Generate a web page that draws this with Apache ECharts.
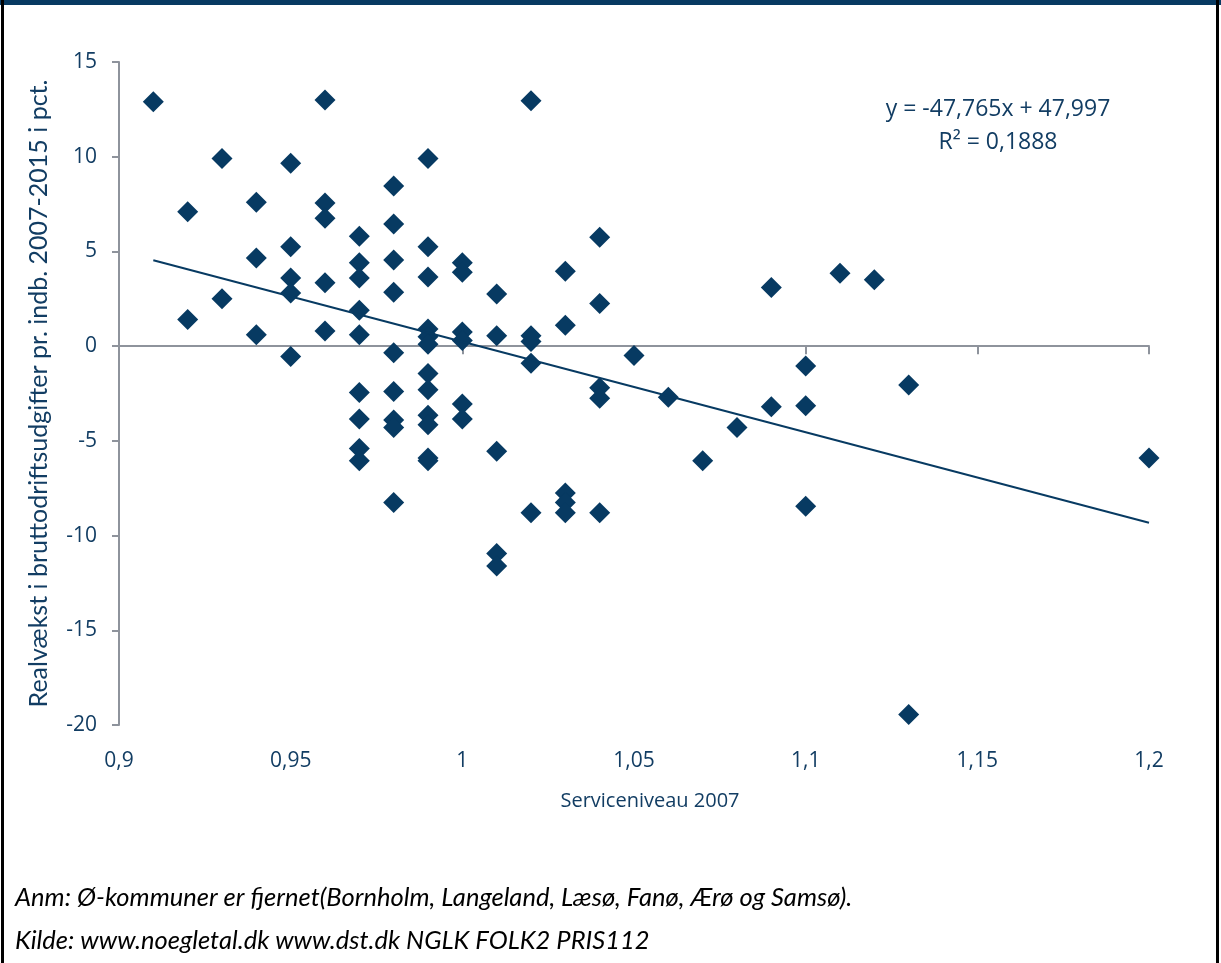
<!DOCTYPE html>
<html>
<head>
<meta charset="utf-8">
<script src="https://cdn.jsdelivr.net/npm/echarts@6/dist/echarts.min.js"></script>
<style>
  html, body { margin: 0; padding: 0; background: #ffffff; }
  #chart { width: 1221px; height: 963px; }
</style>
</head>
<body>
<div id="chart"></div>
<script>
// Serviceniveau 2007 (x) grouped per column, with realvækst values (y, pct.)
const xLevels = [0.91, 0.92, 0.93, 0.94, 0.95, 0.96, 0.97, 0.98, 0.99, 1.00,
                 1.01, 1.02, 1.03, 1.04, 1.05, 1.06, 1.07, 1.08, 1.09, 1.10,
                 1.11, 1.12, 1.13, 1.20];
const growthByLevel = [
  [12.9],
  [7.1, 1.4],
  [9.9, 2.5],
  [7.6, 4.65, 0.6],
  [9.65, 5.25, 3.6, 2.8, -0.55],
  [13.0, 7.55, 6.75, 3.35, 0.8],
  [5.8, 4.4, 3.6, 1.9, 0.6, -2.45, -3.85, -5.4, -6.05],
  [8.45, 6.45, 4.55, 2.85, -0.35, -2.4, -3.9, -4.3, -8.25],
  [9.9, 5.25, 3.65, 0.9, 0.5, 0.1, -1.45, -2.3, -3.65, -4.15, -5.9, -6.05],
  [4.4, 3.9, 0.75, 0.3, -3.05, -3.85],
  [2.75, 0.55, -5.55, -10.95, -11.6],
  [12.95, 0.55, 0.25, -0.9, -8.8],
  [3.95, 1.1, -7.75, -8.25, -8.8],
  [5.75, 2.25, -2.2, -2.75, -8.8],
  [-0.5],
  [-2.7],
  [-6.05],
  [-4.3],
  [3.1, -3.2],
  [-1.05, -3.15, -8.45],
  [3.85],
  [3.5],
  [-2.05, -19.45],
  [-5.9]
];

// Linear trend line coefficients (as printed on the chart)
const trendSlope = -47.765;
const trendIntercept = 47.997;
const trendR2 = 0.1888;

// Axis ranges
const xMin = 0.9, xMax = 1.2, xStep = 0.05;
const yMin = -20, yMax = 15, yStep = 5;

const titleY = 'Realvækst i bruttodriftsudgifter pr. indb. 2007-2015 i pct.';
const titleX = 'Serviceniveau 2007';
const noteLines = [
  'Anm: Ø-kommuner er fjernet(Bornholm, Langeland, Læsø, Fanø, Ærø og Samsø).',
  'Kilde: www.noegletal.dk www.dst.dk NGLK FOLK2 PRIS112'
];

const points = [];
xLevels.forEach((x, i) => growthByLevel[i].forEach(y => points.push([x, y])));

const xs = points.map(p => p[0]);
const x0 = Math.min(...xs), x1 = Math.max(...xs);
const trendLine = [[x0, trendSlope * x0 + trendIntercept], [x1, trendSlope * x1 + trendIntercept]];

const fmtComma = (v, d) => Number(v.toFixed(d)).toString().replace('.', ',');

const navy = '#073a62';
const textNavy = '#123d63';
const axisGray = '#8e939c';
const tickFont = '"Open Sans", sans-serif';
const titleFont = 'Lato, sans-serif';

const chart = echarts.init(document.getElementById('chart'), null, { renderer: 'canvas' });
chart.setOption({
  animation: false,
  backgroundColor: '#ffffff',
  grid: { left: 119, right: 72, top: 62, bottom: 238 },
  xAxis: [
    {
      type: 'value', min: xMin, max: xMax, interval: xStep,
      axisLine: { show: true, onZero: true, lineStyle: { color: axisGray, width: 2 } },
      axisTick: { show: true, length: 8, lineStyle: { color: axisGray, width: 2 } },
      axisLabel: { show: false },
      splitLine: { show: false }
    },
    {
      type: 'value', min: xMin, max: xMax, interval: xStep, position: 'bottom',
      axisLine: { show: false }, axisTick: { show: false }, splitLine: { show: false },
      axisLabel: {
        margin: 26, color: textNavy, fontSize: 21, fontFamily: tickFont,
        formatter: v => fmtComma(v, 2)
      }
    }
  ],
  yAxis: {
    type: 'value', min: yMin, max: yMax, interval: yStep,
    axisLine: { show: true, onZero: false, lineStyle: { color: axisGray, width: 2 } },
    axisTick: { show: true, length: 7, lineStyle: { color: axisGray, width: 2 } },
    splitLine: { show: false },
    axisLabel: { margin: 22, color: textNavy, fontSize: 21, fontFamily: tickFont },
    name: titleY, nameLocation: 'middle', nameGap: 68, nameRotate: 90,
    nameTextStyle: { color: textNavy, fontSize: 25, fontFamily: titleFont }
  },
  series: [
    {
      type: 'line', xAxisIndex: 0, data: trendLine, symbol: 'none',
      lineStyle: { color: navy, width: 2 }, z: 3, silent: true
    },
    {
      type: 'scatter', xAxisIndex: 0, data: points, symbol: 'diamond',
      symbolSize: [21, 21], itemStyle: { color: navy, opacity: 1 }, z: 2
    }
  ],
  graphic: [
    { type: 'rect', left: 0, top: 0, shape: { width: 1221, height: 5 }, style: { fill: '#073a62' } },
    { type: 'rect', left: 1, top: 0, shape: { width: 3, height: 963 }, style: { fill: '#000000' } },
    { type: 'rect', left: 1216, top: 0, shape: { width: 3, height: 963 }, style: { fill: '#000000' } },
    { type: 'text', x: 650, y: 801, style: {
        text: titleX, align: 'center', verticalAlign: 'middle', fill: textNavy,
        font: '20px "Open Sans", sans-serif' } },
    { type: 'text', x: 998, y: 109, style: {
        text: 'y = ' + fmtComma(trendSlope, 3) + 'x + ' + fmtComma(trendIntercept, 3),
        align: 'center', verticalAlign: 'middle', fill: textNavy,
        font: '23px "Open Sans", sans-serif' } },
    { type: 'text', x: 998, y: 142, style: {
        text: 'R² = ' + fmtComma(trendR2, 4),
        align: 'center', verticalAlign: 'middle', fill: textNavy,
        font: '23px "Open Sans", sans-serif' } },
    { type: 'text', x: 15, y: 898, style: {
        text: noteLines[0], align: 'left', verticalAlign: 'middle', fill: '#000000',
        font: 'italic 25.5px Lato, sans-serif' } },
    { type: 'text', x: 15, y: 941, style: {
        text: noteLines[1], align: 'left', verticalAlign: 'middle', fill: '#000000',
        font: 'italic 25.5px Lato, sans-serif' } }
  ]
});
</script>
</body>
</html>
